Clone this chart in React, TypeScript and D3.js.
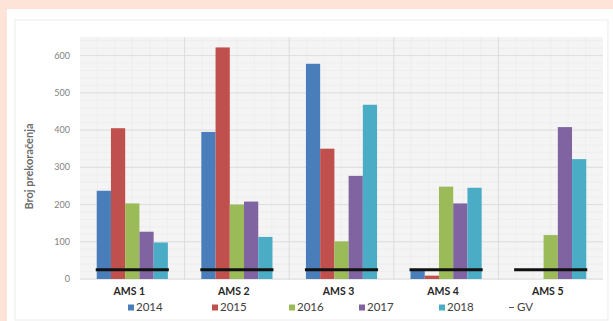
import React from 'react'
import * as d3 from 'd3'

const stations = ['AMS 1', 'AMS 2', 'AMS 3', 'AMS 4', 'AMS 5']
const years = ['2014', '2015', '2016', '2017', '2018']
const values2014 = [237, 395, 578, 24, 0]
const values2015 = [405, 622, 350, 9, 0]
const values2016 = [203, 200, 101, 248, 118]
const values2017 = [127, 208, 277, 203, 408]
const values2018 = [98, 113, 468, 245, 322]
const gvLimit = 25
const yTicks = [0, 100, 200, 300, 400, 500, 600]

const series = [values2014, values2015, values2016, values2017, values2018]
const colors = ['#4a7ebb', '#c0504d', '#9bbb59', '#8064a2', '#4bacc6']

const W = 613
const H = 321
const plot = { left: 80, right: 603, top: 37, bottom: 280 }
const font = 'Lato, "Open Sans", sans-serif'

const App = () => {
  const x0 = d3.scaleBand()
    .domain(stations)
    .range([plot.left, plot.right])
    .paddingInner(0.32)
    .paddingOuter(0.16)

  const x1 = d3.scaleBand()
    .domain(years)
    .range([0, x0.bandwidth()])

  const y = d3.scaleLinear()
    .domain([0, 650])
    .range([plot.bottom - 1, plot.top])

  const step = x0.step()
  const minorY = d3.range(0, 650, 20)
  const sepX = stations.map((s, i) => plot.left + step * i)

  const legendX = [128, 212, 289, 359, 439]

  return (
    <svg width={W} height={H} style={{ position: 'absolute', left: 0, top: 0 }}>
      <rect x={0} y={0} width={W} height={H} fill='#fde3d8' />
      <rect x={7} y={9} width={W - 7} height={H - 9} fill='#ffffff' />
      <rect x={15} y={20} width={593} height={300} fill='none' stroke='#ebebeb' />

      {/* plot area */}
      <rect x={plot.left} y={plot.top} width={plot.right - plot.left}
        height={plot.bottom - plot.top} fill='#f4f4f4' />
      {minorY.map(v => (
        <line key={'m' + v} x1={plot.left} x2={plot.right} y1={y(v)} y2={y(v)}
          stroke='#ececec' strokeWidth={0.8} />
      ))}
      {stations.map((s, i) => d3.range(1, 6).map(k => (
        <line key={s + k} x1={sepX[i] + step * k / 6} x2={sepX[i] + step * k / 6}
          y1={plot.top} y2={plot.bottom} stroke='#ececec' strokeWidth={0.8} />
      )))}
      {yTicks.map(v => (
        <line key={'g' + v} x1={plot.left} x2={plot.right} y1={y(v)} y2={y(v)}
          stroke='#dedede' strokeWidth={1} />
      ))}
      {sepX.slice(1).map(sx => (
        <line key={'s' + sx} x1={sx} x2={sx} y1={plot.top} y2={plot.bottom}
          stroke='#dcdcdc' strokeWidth={1} />
      ))}

      {/* bars */}
      {stations.map((s, i) => (
        <g key={s} transform={`translate(${x0(s)},0)`}>
          {years.map((yr, j) => {
            const v = series[j][i]
            if (!v) return null
            return (
              <rect key={yr} x={x1(yr)} y={y(v)} width={x1.bandwidth()}
                height={y(0) - y(v)} fill={colors[j]} />
            )
          })}
          <line x1={-1} x2={x0.bandwidth() + 1} y1={y(gvLimit)} y2={y(gvLimit)}
            stroke='#111' strokeWidth={3} />
        </g>
      ))}

      {/* y axis */}
      {yTicks.map(v => (
        <text key={'t' + v} x={70} y={y(v)} dy='0.35em' textAnchor='end'
          fontSize={9} fill='#7f7f7f' fontFamily={font}>{v}</text>
      ))}
      <text transform={`translate(33,${(plot.top + plot.bottom) / 2 + 8}) rotate(-90)`}
        textAnchor='middle' fontSize={11} fontWeight='bold' fill='#6b6b6b'
        fontFamily={font}>Broj prekoračenja</text>

      {/* x labels */}
      {stations.map(s => (
        <text key={'x' + s} x={x0(s) + x0.bandwidth() / 2 - 3} y={295} textAnchor='middle'
          fontSize={10.5} fontWeight='bold' fill='#262626' fontFamily={font}>{s}</text>
      ))}

      {/* legend */}
      {years.map((yr, j) => (
        <g key={'l' + yr} transform={`translate(${legendX[j]},311)`}>
          <rect x={0} y={-6.5} width={6} height={6} fill={colors[j]} />
          <text x={8} y={0} fontSize={11.5} fill='#404040' fontFamily={font}>{yr}</text>
        </g>
      ))}
      <g transform='translate(509,311)'>
        <line x1={0} x2={5} y1={-3.5} y2={-3.5} stroke='#555' strokeWidth={1} />
        <text x={8} y={0} fontSize={11.5} fill='#404040' fontFamily={font}>GV</text>
      </g>
    </svg>
  )
}

export default App
